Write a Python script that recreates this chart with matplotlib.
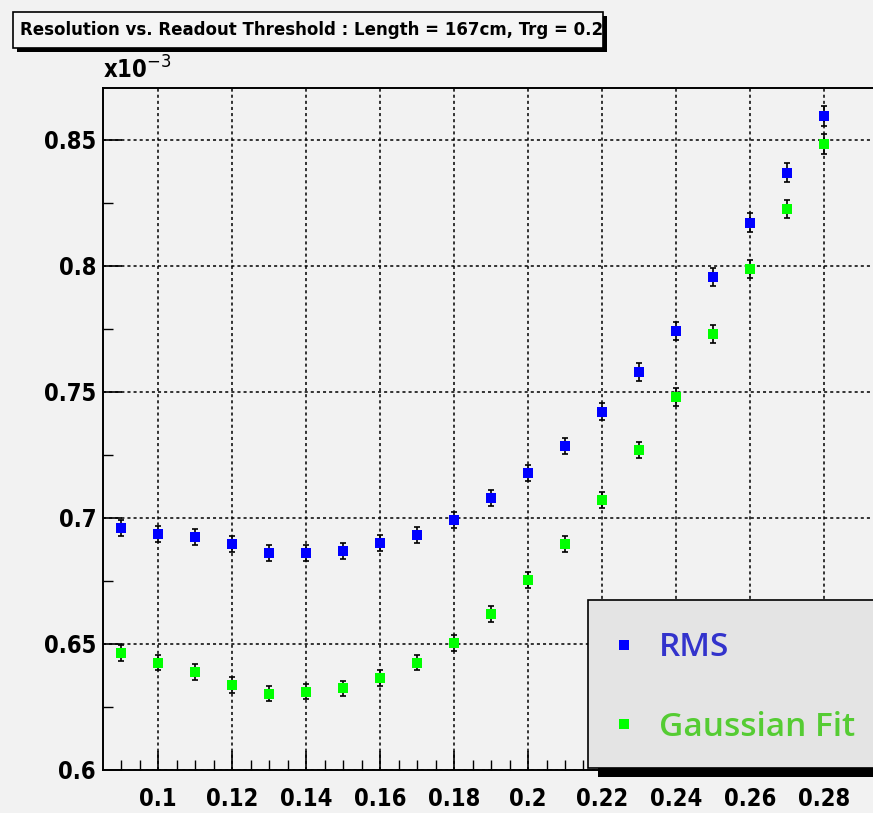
import matplotlib
matplotlib.use("Agg")
import matplotlib.pyplot as plt
from matplotlib.patches import Rectangle
from matplotlib.ticker import MultipleLocator
from matplotlib.transforms import Bbox, TransformedBbox

# readout threshold
threshold = [0.09, 0.10, 0.11, 0.12, 0.13, 0.14, 0.15, 0.16, 0.17, 0.18,
             0.19, 0.20, 0.21, 0.22, 0.23, 0.24, 0.25, 0.26, 0.27, 0.28]

# resolution (x10^-3)
rms = [0.6960, 0.6937, 0.6925, 0.6897, 0.6861, 0.6861, 0.6869, 0.6901, 0.6933, 0.6992,
       0.7079, 0.7179, 0.7286, 0.7421, 0.7579, 0.7742, 0.7956, 0.8171, 0.8369, 0.8595]
rms_err = [0.0032, 0.0032, 0.0032, 0.0032, 0.0032, 0.0032, 0.0032, 0.0032, 0.0032, 0.0032,
           0.0032, 0.0033, 0.0033, 0.0034, 0.0035, 0.0035, 0.0036, 0.0037, 0.0038, 0.0040]

gauss = [0.6464, 0.6425, 0.6389, 0.6337, 0.6302, 0.6310, 0.6325, 0.6365, 0.6425, 0.6504,
         0.6619, 0.6754, 0.6897, 0.7071, 0.7270, 0.7480, 0.7730, 0.7988, 0.8226, 0.8484]
gauss_err = [0.0030, 0.0030, 0.0030, 0.0030, 0.0030, 0.0030, 0.0030, 0.0030, 0.0030, 0.0030,
             0.0031, 0.0031, 0.0032, 0.0033, 0.0033, 0.0034, 0.0035, 0.0036, 0.0034, 0.0040]

bg = '#f2f2f2'
tick_font = dict(family=['DejaVu Sans'], stretch='condensed', weight='bold', size=17)

fig = plt.figure(figsize=(8.73, 8.13), dpi=100, facecolor=bg)
ax = fig.add_axes([0.118, 0.0529, 0.885, 0.8389], facecolor=bg)

# error bars first, markers on top
ax.errorbar(threshold, rms, yerr=rms_err, fmt='none', ecolor='black', elinewidth=1.2,
            capsize=2.5, capthick=1.2, zorder=3)
ax.errorbar(threshold, gauss, yerr=gauss_err, fmt='none', ecolor='black', elinewidth=1.2,
            capsize=2.5, capthick=1.2, zorder=3)
rms_line, = ax.plot(threshold, rms, 's', color='#0000ff', markersize=7, markeredgewidth=0,
                    zorder=4, label='RMS')
gauss_line, = ax.plot(threshold, gauss, 's', color='#00ff00', markersize=7, markeredgewidth=0,
                      zorder=4, label='Gaussian Fit')

ax.set_xlim(0.08507, 0.294)
ax.set_ylim(0.6, 0.8706)
ax.xaxis.set_minor_locator(MultipleLocator(0.005))
ax.yaxis.set_minor_locator(MultipleLocator(0.025))
ax.set_xticks([0.10, 0.12, 0.14, 0.16, 0.18, 0.20, 0.22, 0.24, 0.26, 0.28])
ax.set_xticklabels(['0.1', '0.12', '0.14', '0.16', '0.18', '0.2', '0.22', '0.24', '0.26', '0.28'])
ax.set_yticks([0.6, 0.65, 0.7, 0.75, 0.8, 0.85])
ax.set_yticklabels(['0.6', '0.65', '0.7', '0.75', '0.8', '0.85'])
for lab in ax.get_xticklabels() + ax.get_yticklabels():
    lab.set_fontproperties(tick_font)
ax.tick_params(axis='both', which='major', direction='in', length=14, width=1.2, color='black')
ax.tick_params(axis='both', which='minor', direction='in', length=7, width=1.0, color='black')
ax.tick_params(axis='x', pad=12)
ax.tick_params(axis='y', pad=5)
ax.grid(True, which='major', color='black', linestyle=(0, (2, 2)), linewidth=1.1)
for side in ax.spines.values():
    side.set_linewidth(1.4)

fig.text(0.118, 0.897, r'x10$^{-3}$', fontdict=tick_font, ha='left', va='bottom')

# title box with shadow
fig.add_artist(Rectangle((0.019, 0.936), 0.676, 0.044, transform=fig.transFigure,
                         facecolor='black', edgecolor='none', zorder=6))
fig.add_artist(Rectangle((0.015, 0.941), 0.676, 0.044, transform=fig.transFigure,
                         facecolor='#f5f5f5', edgecolor='black', linewidth=1.2, zorder=7))
title = fig.text(0.023, 0.963, 'Resolution vs. Readout Threshold : Length = 167cm, Trg = 0.29',
                 family=['DejaVu Sans'], stretch='condensed', weight='bold', size=13.3,
                 ha='left', va='center', zorder=8)
title.set_clip_box(TransformedBbox(Bbox([[0.015, 0.941], [0.691, 0.985]]), fig.transFigure))
title.set_clip_on(True)

# legend box with shadow
fig.add_artist(Rectangle((0.685, 0.044), 0.33, 0.02, transform=fig.transFigure,
                         facecolor='black', edgecolor='none', zorder=6))
fig.add_artist(Rectangle((0.673, 0.055), 0.34, 0.207, transform=fig.transFigure,
                         facecolor='#e4e4e4', edgecolor='black', linewidth=1.2, zorder=7))
leg = fig.legend(handles=[rms_line, gauss_line], loc='center left',
                 bbox_to_anchor=(0.690, 0.154), frameon=False, handlelength=0.5,
                 handletextpad=0.8, labelspacing=1.4, markerscale=1.0,
                 borderaxespad=0, borderpad=0.4,
                 prop=dict(family=['Open Sans', 'DejaVu Sans'], weight='semibold', size=24),
                 labelcolor=['#3333cc', '#55cc33'])
leg.set_zorder(9)

fig.savefig('out.png', dpi=100, facecolor=bg)
